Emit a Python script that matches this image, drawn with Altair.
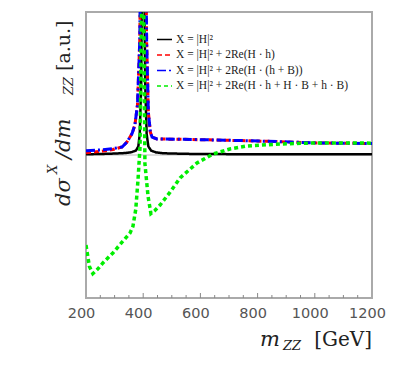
import altair as alt
import pandas as pd

# ---- data ----
labels = [
    "X = |H|²",
    "X = |H|² + 2Re(H · h)",
    "X = |H|² + 2Re(H · (h + B))",
    "X = |H|² + 2Re(H · h + H · B + h · B)",
]
colors = ["#000000", "#ff0000", "#0000ff", "#00ee00"]

black_x = [200, 250, 300, 340, 360, 375, 383, 388, 393, 397, 400, 403, 407, 412, 418, 428, 445, 470, 550, 700, 900, 1200]
black_y = [0.005, 0.007, 0.01, 0.014, 0.02, 0.032, 0.06, 0.15, 0.5, 1.5, 3.0, 1.5, 0.5, 0.15, 0.06, 0.03, 0.018, 0.012, 0.008, 0.006, 0.005, 0.005]

red_x = [200, 250, 294, 326, 343, 361, 371, 380, 388, 394, 400, 406, 412, 418, 425, 431, 448, 529, 650, 763, 880, 994, 1100, 1200]
red_y = [0.015, 0.025, 0.038, 0.056, 0.09, 0.15, 0.21, 0.35, 0.8, 2.0, 4.0, 2.0, 0.8, 0.3, 0.16, 0.125, 0.112, 0.11, 0.105, 0.1, 0.093, 0.085, 0.082, 0.08]

blue_x = [200, 250, 294, 326, 343, 361, 371, 380, 388, 394, 400, 406, 412, 418, 425, 431, 448, 529, 650, 763, 880, 994, 1100, 1200]
blue_y = [0.03, 0.035, 0.045, 0.056, 0.09, 0.15, 0.21, 0.35, 0.8, 2.0, 4.0, 2.0, 0.8, 0.3, 0.16, 0.125, 0.112, 0.11, 0.105, 0.1, 0.093, 0.085, 0.082, 0.08]

green_x = [200, 212, 224, 240, 259, 294, 326, 354, 364, 374, 382, 389, 394, 398, 402, 406, 417, 427, 440, 459, 494, 529, 588, 644, 703, 763, 878, 994, 1100, 1200]
green_y = [-0.63, -0.78, -0.83, -0.80, -0.755, -0.685, -0.61, -0.545, -0.50, -0.38, -0.17, 0.06, 1.0, 3.0, 1.0, -0.06, -0.29, -0.41, -0.39, -0.35, -0.26, -0.16, -0.056, 0.007, 0.042, 0.063, 0.077, 0.084, 0.084, 0.083]

x_tick_labels = [200, 400, 600, 800, 1000, 1200]
minor_ticks = [v for v in range(250, 1200, 50) if v % 200 != 0]
major_ticks = [400, 600, 800, 1000]

series = [(black_x, black_y), (red_x, red_y), (blue_x, blue_y), (green_x, green_y)]
widths = [2.5, 3, 3, 3.5]
dashes = [[1, 0], [5, 3], [9, 3, 2, 3], [4, 3]]

W, H = 286, 286
xs = alt.Scale(domain=[200, 1200], nice=False, zero=False)
ys = alt.Scale(domain=[-1, 1], nice=False, zero=False)

color_scale = alt.Scale(domain=labels, range=colors)
dash_scale = alt.Scale(domain=labels, range=dashes)
legend = alt.Legend(
    title=None, orient="none", legendX=70, legendY=19,
    symbolType="stroke", symbolSize=225, symbolStrokeWidth=1.6,
    labelFont="Liberation Serif", labelFontSize=11.5, labelColor="#222",
    labelOffset=3, rowPadding=1.5, padding=0, labelLimit=400,
)

x_axis = alt.Axis(values=x_tick_labels, ticks=False, domain=False, grid=False, title=None,
                  format="d", labelOverlap=False, labelFlush=False, labelOffset=-5,
                  labelFont="DejaVu Sans", labelFontSize=14.5, labelColor="#555", labelPadding=8)

layers = []
zero = alt.Chart(pd.DataFrame({"z": [0]})).mark_rule(color="#bbbbbb", strokeWidth=1).encode(
    y=alt.Y("z:Q", scale=ys, axis=None))
layers.append(zero)

for i, (sx, sy) in enumerate(series):
    df = pd.DataFrame({"m": sx, "v": sy, "series": labels[i]})
    ch = alt.Chart(df).mark_line(strokeWidth=widths[i], clip=True).encode(
        x=alt.X("m:Q", scale=xs, axis=x_axis),
        y=alt.Y("v:Q", scale=ys, axis=None),
        color=alt.Color("series:N", scale=color_scale, legend=legend),
        strokeDash=alt.StrokeDash("series:N", scale=dash_scale, legend=legend),
        order=alt.Order("m:Q"),
    )
    layers.append(ch)

minor = alt.Chart(pd.DataFrame({"t": minor_ticks})).mark_rule(color="#888888", strokeWidth=1).encode(
    x=alt.X("t:Q", scale=xs, axis=x_axis), y=alt.value(H), y2=alt.value(H - 3))
major = alt.Chart(pd.DataFrame({"t": major_ticks})).mark_rule(color="#888888", strokeWidth=1).encode(
    x=alt.X("t:Q", scale=xs, axis=x_axis), y=alt.value(H), y2=alt.value(H - 5))
layers += [minor, major]

TF = "DejaVu Serif"


def txt(s, x, y, size, italic=True, angle=0, align="left"):
    kw = dict(font=TF, fontSize=size, align=align, baseline="alphabetic", color="#222")
    if italic:
        kw["fontStyle"] = "italic"
    if angle:
        kw["angle"] = angle
    return alt.Chart(pd.DataFrame({"s": [s]})).mark_text(**kw).encode(
        text="s:N", x=alt.value(x), y=alt.value(y))

# x title pieces
layers += [
    txt("m", 174, 334, 21),
    txt("ZZ", 197, 338, 13),
    txt("[GeV]", 286, 334, 20, italic=False, align="right"),
]
# y title pieces (rotated)
layers += [
    txt("dσ", -16, 194, 21, angle=270),
    txt("X", -29, 162, 13, angle=270),
    txt("/dm", -16, 147, 21, angle=270),
    txt("ZZ", -13, 83, 13, angle=270),
    txt("[a.u.]", -16, 59, 19, italic=False, angle=270),
]

chart = alt.layer(*layers).properties(
    width=W, height=H,
    autosize=alt.AutoSizeParams(type="none"),
    padding={"left": 78, "top": 4, "right": 17, "bottom": 60},
).configure_view(stroke="#aaaaaa", strokeWidth=2)

chart.save("out.html", embed_options={"renderer": "svg", "actions": False})
